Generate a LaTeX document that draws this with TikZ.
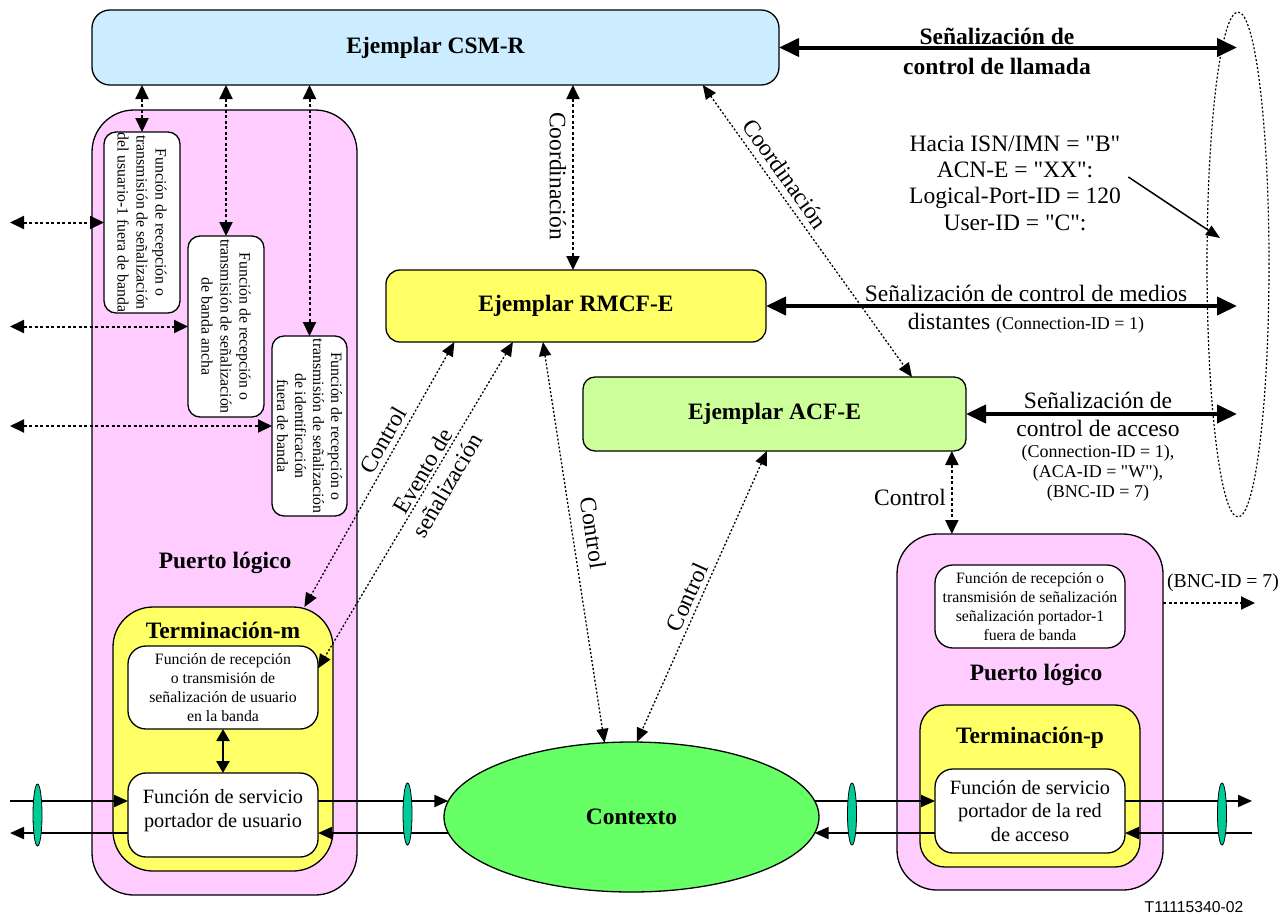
\documentclass[tikz,border=0pt]{standalone}
\usepackage{fontspec}
\setmainfont{Liberation Serif}[Ligatures=TeXOff]
\newfontfamily\arialfont{Liberation Sans}
\usetikzlibrary{arrows.meta,shapes.geometric,calc}

\definecolor{csmblue}{RGB}{204,236,255}
\definecolor{portpink}{RGB}{255,204,255}
\definecolor{termyellow}{RGB}{255,255,102}
\definecolor{acfgreen}{RGB}{204,255,153}
\definecolor{ctxgreen}{RGB}{102,255,102}
\definecolor{tealmark}{RGB}{0,204,153}

\newcommand{\bigf}{\fontsize{23.5}{27}\selectfont}
\newcommand{\midf}{\fontsize{20.3}{23.5}\selectfont}
\newcommand{\smlf}{\fontsize{15.8}{19}\selectfont}
\newcommand{\cidf}{\fontsize{18}{20}\selectfont}

\begin{document}
\begin{tikzpicture}[x=1pt,y=-1pt,
  box/.style={draw, line width=1.3pt, inner sep=0pt, outer sep=0pt, align=center},
  wbox/.style={box, fill=white},
  marker/.style={draw, ellipse, fill=tealmark, line width=0.8pt, minimum width=9, minimum height=62, inner sep=0pt},
  dotarrow/.style={line width=2pt, dash pattern=on 3pt off 2.5pt, arrows={Triangle[length=14pt,width=13pt]-Triangle[length=14pt,width=13pt]}},
  dotsingle/.style={line width=2pt, dash pattern=on 3pt off 2.5pt, arrows={-Triangle[length=14pt,width=13pt]}},
  thinarrow/.style={line width=1.3pt, dash pattern=on 2pt off 2pt, arrows={Triangle[length=14pt,width=12pt]-Triangle[length=14pt,width=12pt]}},
  sigarrow/.style={line width=4pt, arrows={Triangle[length=20pt,width=18pt]-Triangle[length=20pt,width=18pt]}},
  bearer/.style={line width=2pt, arrows={-Triangle[length=14pt,width=12pt]}},
  lbl/.style={font=\bigf, inner sep=2pt}
]
\useasboundingbox (0,0) rectangle (1287,914);

% free ends
\coordinate (lx) at (10,0);
\coordinate (rx) at (1252,0);
\coordinate (ex) at (1237,0);

% containers
\node[box, fill=portpink, rounded corners=42, minimum width=265, minimum height=785] (lport) at (224.5,502.5) {};
\node[box, fill=portpink, rounded corners=40, minimum width=266, minimum height=356] (rport) at (1030,712) {};
\node[box, fill=termyellow, rounded corners=40, minimum width=220, minimum height=264] (termm) at (223,739) {};
\node[box, fill=termyellow, rounded corners=25, minimum width=220, minimum height=162] (termp) at (1030,786) {};

\node[font=\bigf\bfseries] (lportlbl) at (225,563) {Puerto lógico};
\node[font=\bigf\bfseries] (rportlbl) at (1036,675) {Puerto lógico};
\node[font=\bigf\bfseries] (termmlbl) at (223,630) {Terminación-m};
\node[font=\bigf\bfseries] (termplbl) at (1030,738) {Terminación-p};

% instances
\node[box, fill=csmblue, rounded corners=18, minimum width=687, minimum height=75, font=\bigf\bfseries] (csm) at (435.5,47.5) {Ejemplar CSM-R};
\node[box, fill=termyellow, rounded corners=14, minimum width=380, minimum height=72, font=\bigf\bfseries] (rmcf) at (576,306) {Ejemplar RMCF-E};
\node[box, fill=acfgreen, rounded corners=12, minimum width=383, minimum height=74, font=\bigf\bfseries] (acf) at (774.5,414) {Ejemplar ACF-E};

% rotated signalling boxes
\node[wbox, rotate=-90, rounded corners=12, minimum width=181, minimum height=76, font=\smlf] (sA) at (142,222.5) {Función de recepción o\\transmisión de señalización\\del usuario-1 fuera de banda};
\node[wbox, rotate=-90, rounded corners=12, minimum width=181, minimum height=76, font=\smlf] (sB) at (226,326.5) {Función de recepción o\\transmisión de señalización\\de banda ancha};
\node[wbox, rotate=-90, rounded corners=12, minimum width=180, minimum height=75, font=\fontsize{15.8}{18}\selectfont] (sC) at (309.5,426) {Función de recepción o\\transmisión de señalización\\de identificación\\fuera de banda};

% inner boxes
\node[wbox, rounded corners=18, minimum width=190, minimum height=83, font=\smlf] (usig) at (223,687.5) {Función de recepción\\o transmisión de\\señalización de usuario\\en la banda};
\node[wbox, rounded corners=18, minimum width=190, minimum height=84, font=\midf, text depth=13pt] (ubox) at (223,815) {Función de servicio\\portador de usuario};
\node[wbox, rounded corners=18, minimum width=190, minimum height=83, font=\smlf] (rsig) at (1030,606.5) {Función de recepción o\\transmisión de señalización\\señalización portador-1\\fuera de banda};
\node[wbox, rounded corners=18, minimum width=190, minimum height=84, font=\midf] (pbox) at (1030,811) {Función de servicio\\portador de la red\\de acceso};

% context
\node[draw, ellipse, line width=1.3pt, fill=ctxgreen, minimum width=375, minimum height=150, inner sep=0pt, outer sep=0pt, font=\bigf\bfseries] (ctx) at (631.5,817) {Contexto};

% dotted bundle ellipse
\node[draw, ellipse, line width=1.2pt, dash pattern=on 2pt off 2pt, minimum width=62, minimum height=505, inner sep=0pt, outer sep=0pt] (bundle) at (1238,264.5) {};

% bearer lines
\draw[bearer] (lx |- ctx.175) -- (ubox.west |- ctx.175);
\draw[bearer] (ubox.west |- ctx.185) -- (lx |- ctx.185);
\draw[bearer] (ubox.east |- ctx.175) -- (ctx.175);
\draw[bearer] (ctx.185) -- (ubox.east |- ctx.185);
\draw[bearer] (ctx.5) -- (pbox.west |- ctx.5);
\draw[bearer] (pbox.west |- ctx.355) -- (ctx.355);
\draw[bearer] (pbox.east |- ctx.5) -- (rx |- ctx.5);
\draw[bearer] (rx |- ctx.355) -- (pbox.east |- ctx.355);

\node[marker] (m1) at (37.5,815) {};
\node[marker] (m2) at (407.5,814) {};
\node[marker] (m3) at (852,814) {};
\node[marker] (m4) at (1222,814) {};

% inner termination arrow
\draw[line width=2.5pt, arrows={Triangle[length=12pt,width=13pt]-Triangle[length=12pt,width=13pt]}] (usig.south) -- (ubox.north);

% signalling arrows (thick)
\draw[sigarrow] (csm.east) -- (csm.east -| ex);
\draw[sigarrow] (rmcf.east) -- (rmcf.east -| ex);
\draw[sigarrow] (acf.east) -- (acf.east -| ex);

\node[font=\fontsize{23.5}{30}\selectfont\bfseries, align=center] (callsig) at (997,51) {Señalización de\\control de llamada};
\node[lbl] (med1) at (1026,293) {Señalización de control de medios};
\node[lbl] (med2) at (1026,323) {distantes {\cidf (Connection-ID = 1)}};
\node[font=\fontsize{23.5}{28}\selectfont, align=center] (acc1) at (1098,414) {Señalización de\\control de acceso};
\node[font=\cidf, align=center] (acc2) at (1098,473) {(Connection-ID = 1),\\(ACA-ID = "W"),\\(BNC-ID = 7)};

\node[font=\fontsize{23.5}{26.3}\selectfont, align=center] (hacia) at (1015,183) {Hacia ISN/IMN = "B"\\ACN-E = "XX":\\Logical-Port-ID = 120\\User-ID = "C":};
\coordinate (htgt) at (1220,238);
\draw[line width=1.5pt, arrows={-Triangle[length=14pt,width=11pt]}] ($(hacia.east)+(4,-6)$) -- (htgt);

% CSM to signalling boxes
\draw[dotarrow] (sA.west |- csm.south) -- (sA.west);
\draw[dotarrow] (sB.west |- csm.south) -- (sB.west);
\draw[dotarrow] (sC.west |- csm.south) -- (sC.west);
\draw[dotarrow] (lx |- sA.south) -- (sA.south);
\draw[dotarrow] (lx |- sB.south) -- (sB.south);
\draw[dotarrow] (lx |- sC.south) -- (sC.south);

% coordination
\coordinate (rmtop) at ($(rmcf.north west)!0.492!(rmcf.north east)$);
\draw[dotarrow] (rmtop |- csm.south) -- (rmtop);
\node[lbl, rotate=-90] (coord1) at (558,176) {Coordinación};

\draw[thinarrow] ($(csm.south west)!0.889!(csm.south east)$) -- ($(acf.north west)!0.859!(acf.north east)$);
\node[lbl, rotate=-54.4] (coord2) at (785,174) {Coordinación};

% control / event links
\draw[thinarrow] ($(rmcf.south west)!0.18!(rmcf.south east)$) -- ($(termm.north west)!0.87!(termm.north east)$);
\node[lbl, rotate=60] (ctl1) at (383,440) {Control};

\draw[thinarrow] ($(rmcf.south west)!0.334!(rmcf.south east)$) -- ($(usig.north east)!0.27!(usig.south east)$);
\node[font=\fontsize{23.5}{28}\selectfont, align=center, rotate=59.5] (evt) at (435,478) {Evento de\\señalización};

\draw[thinarrow] ($(rmcf.south west)!0.413!(rmcf.south east)$) -- (ctx.110);
\node[lbl, rotate=-81.4] (ctl2) at (593,533) {Control};

\draw[thinarrow] ($(acf.south west)!0.48!(acf.south east)$) -- (ctx.86);
\node[lbl, rotate=65.8] (ctl3) at (687,597) {Control};

\coordinate (acfc) at ($(acf.south west)!0.963!(acf.south east)$);
\draw[dotarrow] (acfc) -- (acfc |- rport.north);
\node[lbl] (ctl4) at (910,497) {Control};

% BNC
\node[font=\fontsize{19.7}{22}\selectfont] (bnc) at (1223,583) {(BNC-ID = 7)};
\coordinate (bncend) at (1255,603);
\draw[dotsingle] (rport.east |- bncend) -- (bncend);

\node[font=\arialfont\fontsize{15.7}{18}\selectfont] (tref) at (1194,907) {T11115340-02};
\end{tikzpicture}
\end{document}
